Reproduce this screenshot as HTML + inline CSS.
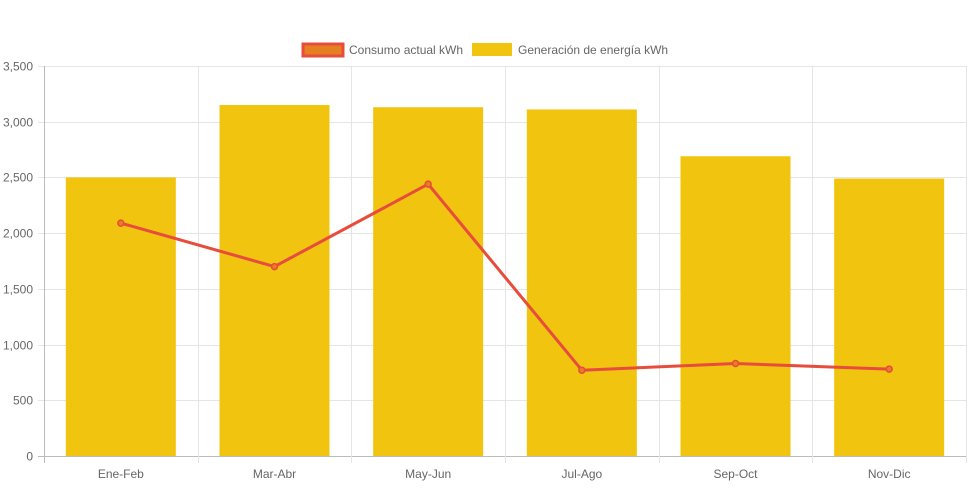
<!DOCTYPE html>
<html><head><meta charset="utf-8"><style>
body{margin:0;background:#fff;font-family:"Liberation Sans",sans-serif;}
</style></head><body>
<svg id="chart" width="971" height="485" xmlns="http://www.w3.org/2000/svg" font-family="Liberation Sans, sans-serif" font-size="12" fill="#666"></svg>
<script>
const categories=["Ene-Feb","Mar-Abr","May-Jun","Jul-Ago","Sep-Oct","Nov-Dic"];
const generation=[2500,3150,3130,3110,2690,2490];
const consumption=[2090,1700,2440,770,830,780];
const yTicks=[0,500,1000,1500,2000,2500,3000,3500];
const yTickLabels=["0","500","1,000","1,500","2,000","2,500","3,000","3,500"];
const seriesNames=["Consumo actual kWh","Generación de energía kWh"];

const svg=document.getElementById('chart');
const NS="http://www.w3.org/2000/svg";
const L=44,R=966,T=66,B=456,yMax=3500;
const band=(R-L)/categories.length;
const y=v=>B-(v/yMax)*(B-T);
const xc=i=>L+band*(i+0.5);
function mk(tag,attrs,parent){const e=document.createElementNS(NS,tag);for(const k in attrs)e.setAttribute(k,attrs[k]);(parent||svg).appendChild(e);return e;}

const grid=mk('g',{});


yTicks.forEach((t,i)=>{
  const yy=Math.round(y(t))+0.5;
  mk('line',{x1:38,x2:R,y1:yy,y2:yy,stroke:i===0?'#bbb':'#e5e5e5'},grid);
  const tx=mk('text',{x:33,y:yy+4,'text-anchor':'end'});
  tx.textContent=yTickLabels[i];
  
  
});
for(let i=0;i<=categories.length;i++){
  const xx=Math.round(L+band*i)+0.5;
  mk('line',{x1:xx,x2:xx,y1:T,y2:463,stroke:i===0?'#bbb':'#e5e5e5'},grid);
}
categories.forEach((c,i)=>{
  const tx=mk('text',{x:xc(i),y:478,'text-anchor':'middle'});
  tx.textContent=c;
  
  
});
const bw=110;
generation.forEach((v,i)=>{
  const r=mk('rect',{x:xc(i)-bw/2,y:y(v),width:bw,height:B-y(v),fill:'#f1c40f'});
  
  
});
const pts=consumption.map((v,i)=>xc(i)+','+y(v)).join(' ');
const pl=mk('polyline',{points:pts,fill:'none',stroke:'#e74c3c','stroke-width':3,'stroke-linejoin':'round'});


consumption.forEach((v,i)=>{
  const c=mk('circle',{cx:xc(i),cy:y(v),r:3,fill:'#e67e22',stroke:'#e74c3c','stroke-width':1.5});
  
  
});
// legend
const lg1=mk('g',{});


mk('rect',{x:303,y:44,width:40,height:12,fill:'#e67e22',stroke:'#e74c3c','stroke-width':3},lg1);
const t1=mk('text',{x:349,y:54},lg1);t1.textContent=seriesNames[0];
const lg2=mk('g',{});


mk('rect',{x:472,y:43,width:40,height:13,fill:'#f1c40f'},lg2);
const t2=mk('text',{x:518,y:54},lg2);t2.textContent=seriesNames[1];
</script>
</body></html>
